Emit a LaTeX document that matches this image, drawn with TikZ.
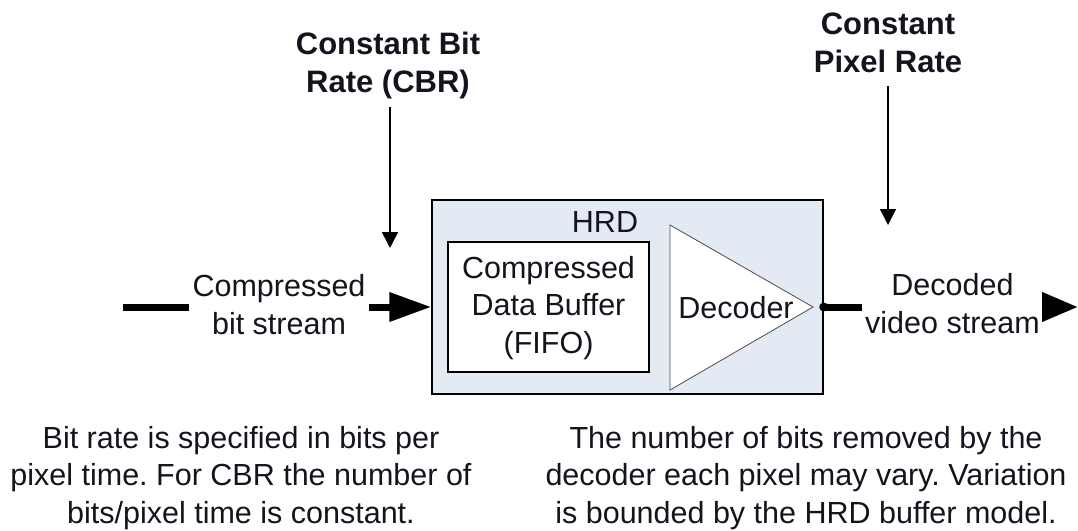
\documentclass[tikz,border=0pt]{standalone}
\usepackage{fontspec}
\setmainfont{Liberation Sans}
\usetikzlibrary{arrows.meta}
\definecolor{hrdfill}{RGB}{228,234,244}
\definecolor{txt}{RGB}{20,20,30}
\frenchspacing
\begin{document}
\begin{tikzpicture}[x=1pt,y=-1pt,
  lbl/.style={font=\fontsize{30.5}{37.5}\selectfont, text=txt, align=center, inner sep=3pt, anchor=base},
  ttl/.style={font=\bfseries\fontsize{31}{38}\selectfont, text=txt, align=center, inner sep=0pt, anchor=base},
  thickline/.style={line width=7pt},
  ratearrow/.style={line width=1.5pt, -{Triangle[length=16pt,width=16pt]}}]
\useasboundingbox (0,0) rectangle (1078,530);
% HRD box
\node[draw, line width=1.5pt, fill=hrdfill, minimum width=391pt, minimum height=194pt, inner sep=0pt] (hrd) at (627.5,297) {};
\node[lbl, inner sep=0pt] (hrdlbl) at (605,232) {HRD};
% FIFO buffer
\node[draw, line width=1.5pt, fill=white, minimum width=201pt, minimum height=130pt, inner sep=0pt] (fifo) at (548.5,307) {};
\node[lbl, inner sep=0pt] (fifotxt) at (548.5,353) {Compressed\\Data Buffer\\(FIFO)};
% Decoder triangle
\coordinate (dtop) at (670,225);
\coordinate (dbot) at (670,390);
\coordinate (dapex) at (813,307);
\draw[line width=0.8pt, draw=black!70, fill=white] (dtop) -- (dapex) -- (dbot) -- cycle;
\node[lbl, inner sep=0pt] (dec) at (736,318) {Decoder};
% input
\coordinate (inStart) at (123,307);
\node[lbl] (inLbl) at (279,334) {Compressed\\bit stream};
\draw[thickline] (inStart) -- (inStart -| inLbl.west);
\draw[thickline, -{Triangle[length=42pt,width=28pt]}] (inStart -| inLbl.east) -- (inStart -| hrd.west);
% output
\coordinate (outEnd) at (1078,307);
\node[lbl] (outLbl) at (952.5,333) {Decoded\\video stream};
\draw[thickline] (outEnd -| hrd.east) -- (outEnd -| outLbl.west);
\draw[thickline, -{Triangle[length=36pt,width=28pt]}] (outEnd -| outLbl.east) -- (outEnd);
\fill (outEnd -| hrd.east) circle (4.5pt);
% rate labels
\node[ttl] (cbr) at (388,92) {Constant Bit\\Rate (CBR)};
\coordinate (cbrTip) at (390,248);
\draw[ratearrow] (cbrTip |- 0,107) -- (cbrTip);
\node[ttl] (pix) at (888,72) {Constant\\Pixel Rate};
\coordinate (pixTip) at (888,225);
\draw[ratearrow] (pixTip |- 0,86) -- (pixTip);
% bottom notes
\node[lbl] (noteL) at (241,523) {Bit rate is specified in bits per\\pixel time. For CBR the number of\\bits/pixel time is constant.};
\node[lbl] (noteR) at (806,523) {The number of bits removed by the\\decoder each pixel may vary. Variation\\is bounded by the HRD buffer model.};
\end{tikzpicture}
\end{document}
